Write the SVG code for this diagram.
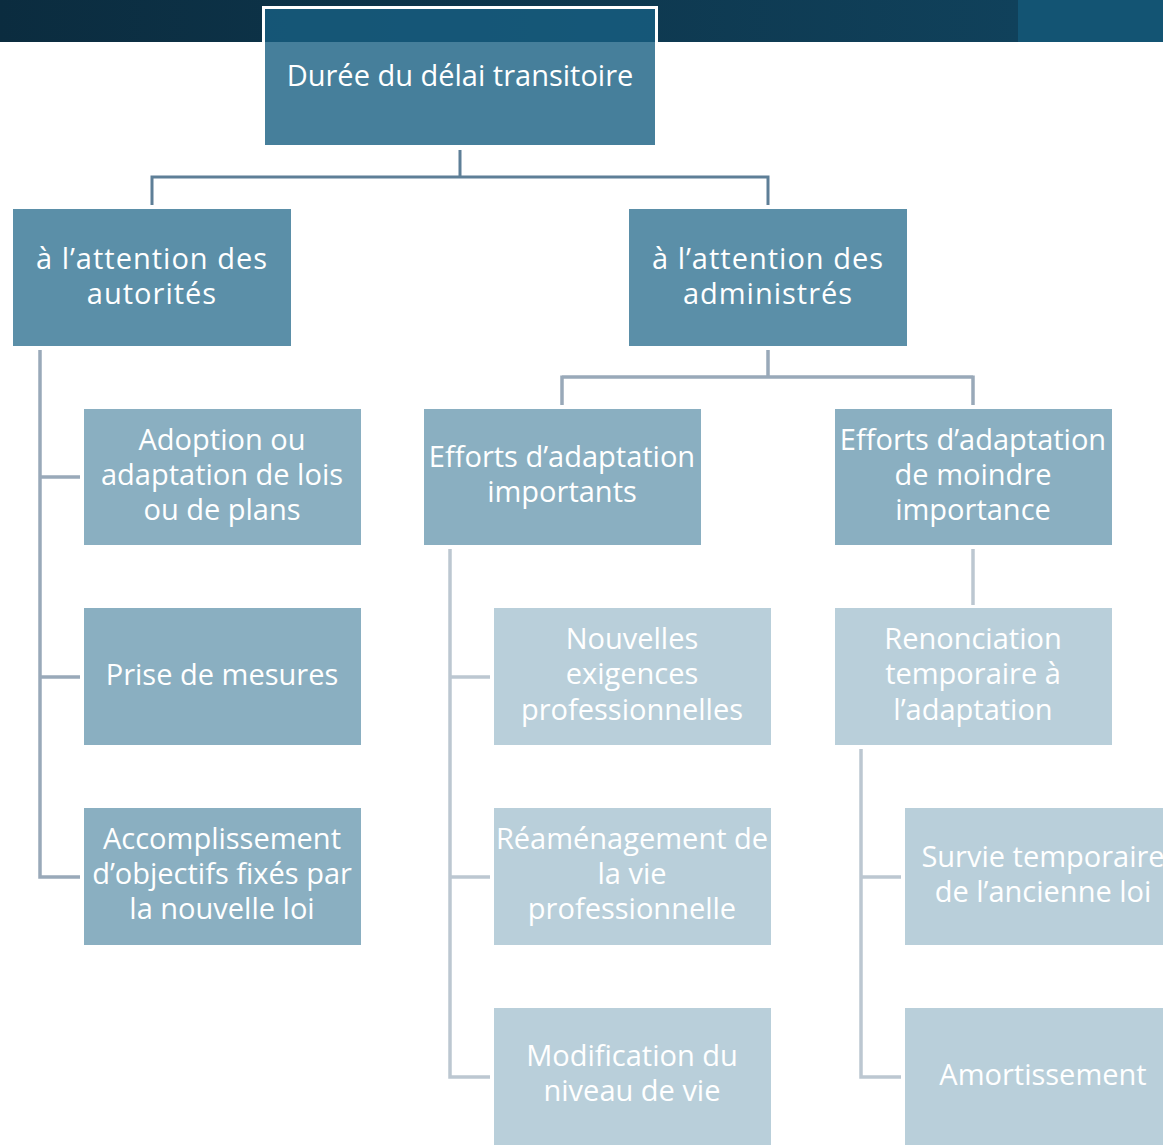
<svg xmlns="http://www.w3.org/2000/svg" width="1163" height="1147" viewBox="0 0 1163 1147">
<defs>
<linearGradient id="bar" x1="0" y1="0" x2="1" y2="0">
<stop offset="0" stop-color="#0b2c3f"/>
<stop offset="1" stop-color="#10415b"/>
</linearGradient>
<style>
.t{font-family:"Open Sans","Liberation Sans",sans-serif;font-size:29px;fill:#ffffff;text-anchor:middle}
.sp{letter-spacing:1px}
.l2{fill:#5b8fa8}
.l3{fill:#8aafc1}
.l4{fill:#b9cfda}
.c1{fill:none;stroke:#5e7f97;stroke-width:3}
.c2{fill:none;stroke:#99a9b9;stroke-width:3.5}
.c3{fill:none;stroke:#bcc7d1;stroke-width:3.5}
</style>
</defs>
<rect width="1163" height="1147" fill="#ffffff"/>
<rect x="0" y="0" width="1018" height="42" fill="url(#bar)"/>
<rect x="1018" y="0" width="145" height="42" fill="#135473"/>

<g id="connectors">
<path class="c1" d="M460 150V177M152 177H768M152 175.5V205M768 175.5V205"/>
<path class="c2" d="M40 350V877H80M40 477H80M40 677H80"/>
<path class="c2" d="M768 350V377M562 377H973M562 375.5V405M973 375.5V405"/>
<path class="c3" d="M450 549V1077H490M450 677H490M450 877H490"/>
<path class="c3" d="M973 549V605"/>
<path class="c3" d="M861 749V1077H901M861 877H901"/>
</g>

<g id="root">
<rect x="263.5" y="7.5" width="393" height="139" fill="#185f82" fill-opacity="0.8" stroke="#ffffff" stroke-width="3"/>
<text class="t" x="460" y="86">Durée du délai transitoire</text>
</g>

<g id="autorites">
<rect class="l2" x="13" y="209" width="278" height="137"/>
<text class="t sp" x="152" y="269">à l’attention des</text>
<text class="t sp" x="152" y="304">autorités</text>
</g>

<g id="administres">
<rect class="l2" x="629" y="209" width="278" height="137"/>
<text class="t sp" x="768" y="269">à l’attention des</text>
<text class="t sp" x="768" y="304">administrés</text>
</g>

<g id="adoption">
<rect class="l3" x="84" y="409" width="277" height="136"/>
<text class="t" x="222" y="450">Adoption ou</text>
<text class="t" x="222" y="485">adaptation de lois</text>
<text class="t" x="222" y="520">ou de plans</text>
</g>

<g id="prise">
<rect class="l3" x="84" y="608" width="277" height="137"/>
<text class="t" x="222" y="685">Prise de mesures</text>
</g>

<g id="accomplissement">
<rect class="l3" x="84" y="808" width="277" height="137"/>
<text class="t" x="222" y="849">Accomplissement</text>
<text class="t" x="222" y="884">d’objectifs fixés par</text>
<text class="t" x="222" y="919">la nouvelle loi</text>
</g>

<g id="efforts-importants">
<rect class="l3" x="424" y="409" width="277" height="136"/>
<text class="t" x="562" y="467">Efforts d’adaptation</text>
<text class="t" x="562" y="502">importants</text>
</g>

<g id="efforts-moindre">
<rect class="l3" x="835" y="409" width="277" height="136"/>
<text class="t" x="973" y="450">Efforts d’adaptation</text>
<text class="t" x="973" y="485">de moindre</text>
<text class="t" x="973" y="520">importance</text>
</g>

<g id="nouvelles">
<rect class="l4" x="494" y="608" width="277" height="137"/>
<text class="t" x="632" y="649">Nouvelles</text>
<text class="t" x="632" y="684">exigences</text>
<text class="t" x="632" y="720">professionnelles</text>
</g>

<g id="reamenagement">
<rect class="l4" x="494" y="808" width="277" height="137"/>
<text class="t" x="632" y="849">Réaménagement de</text>
<text class="t" x="632" y="884">la vie</text>
<text class="t" x="632" y="919">professionnelle</text>
</g>

<g id="modification">
<rect class="l4" x="494" y="1008" width="277" height="137"/>
<text class="t" x="632" y="1066">Modification du</text>
<text class="t" x="632" y="1101">niveau de vie</text>
</g>

<g id="renonciation">
<rect class="l4" x="835" y="608" width="277" height="137"/>
<text class="t" x="973" y="649">Renonciation</text>
<text class="t" x="973" y="684">temporaire à</text>
<text class="t" x="973" y="720">l’adaptation</text>
</g>

<g id="survie">
<rect class="l4" x="905" y="808" width="277" height="137"/>
<text class="t" x="1043" y="867">Survie temporaire</text>
<text class="t" x="1043" y="902">de l’ancienne loi</text>
</g>

<g id="amortissement">
<rect class="l4" x="905" y="1008" width="277" height="137"/>
<text class="t" x="1043" y="1085">Amortissement</text>
</g>
</svg>
